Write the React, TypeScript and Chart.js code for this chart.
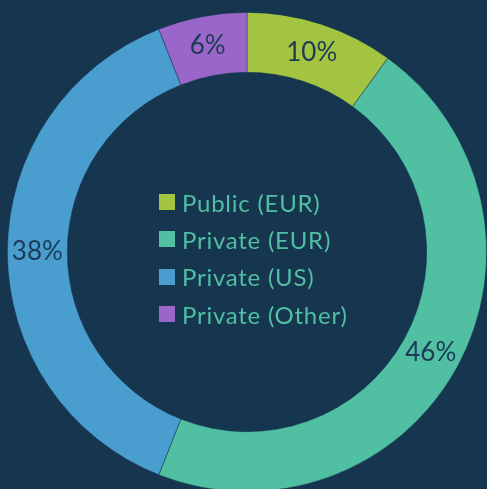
import React, { useEffect, useRef } from "react";
import { Chart, registerables } from "chart.js";

Chart.register(...registerables);

const categories = ["Public (EUR)", "Private (EUR)", "Private (US)", "Private (Other)"];
const values = [10, 46, 38, 6];
const colors = ["#a2c440", "#50bfa2", "#4a9ecf", "#9b66c9"];
const BG = "#16354f";

const labelPlugin = {
  id: "sliceLabels",
  afterDatasetsDraw(chart: any) {
    const ctx = chart.ctx;
    const meta = chart.getDatasetMeta(0);
    ctx.save();
    ctx.fillStyle = "#1b3a55";
    ctx.font = "26px Lato";
    ctx.textAlign = "center";
    ctx.textBaseline = "middle";
    meta.data.forEach((arc: any, i: number) => {
      const p = arc.tooltipPosition();
      ctx.fillText(values[i] + "%", p.x, p.y);
    });
    ctx.restore();
  },
};

export default function App() {
  const ref = useRef<HTMLCanvasElement>(null);
  useEffect(() => {
    document.body.style.margin = "0";
    document.body.style.background = BG;
    document.body.style.overflow = "hidden";
    const chart = new Chart(ref.current!, {
      type: "doughnut",
      data: {
        labels: categories,
        datasets: [
          {
            data: values,
            backgroundColor: colors,
            borderColor: "rgba(22,53,79,0.6)",
            borderWidth: 0.8,
          },
        ],
      },
      options: {
        responsive: false,
        animation: false,
        cutout: "75%",
        layout: { padding: 0 },
        plugins: { legend: { display: false }, tooltip: { enabled: false } },
      },
      plugins: [labelPlugin],
    });
    return () => chart.destroy();
  }, []);

  return (
    <div style={{ position: "fixed", left: 0, top: 0, width: 487, height: 489, background: BG, overflow: "hidden" }}>
      <canvas ref={ref} width={480} height={480} style={{ position: "absolute", left: 7, top: 12, width: 480, height: 480 }} />
      <div style={{ position: "absolute", left: 159, top: 183.5, fontFamily: "Lato", fontSize: 24, letterSpacing: "0.75px", color: "#50bfa2" }}>
        {categories.map((c, i) => (
          <div key={c} style={{ display: "flex", alignItems: "center", height: 37.3 }}>
            <span style={{ display: "inline-block", width: 16, height: 16, background: colors[i], marginRight: 7 }} />
            <span style={{ lineHeight: "29px" }}>{c}</span>
          </div>
        ))}
      </div>
    </div>
  );
}
